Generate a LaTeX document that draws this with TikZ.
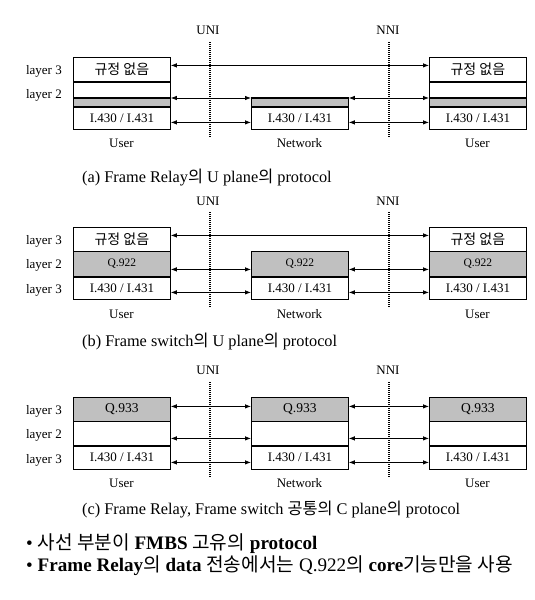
\documentclass[tikz,border=0pt]{standalone}
\usepackage{fontspec}
\setmainfont{Liberation Serif}
\newfontfamily\kr{Noto Sans CJK KR}
\usetikzlibrary{arrows.meta}
\definecolor{LayerGray}{HTML}{C0C0C0}
\tikzset{
  cell/.style={draw, line width=0.8pt, anchor=north west, minimum width=97pt, inner sep=0pt, font=\fontsize{13}{14}\selectfont},
  shaded/.style={cell, fill=LayerGray},
  korean/.style={font=\fontsize{14}{15}\kr},
  sep/.style={line width=2.2pt},
  link/.style={line width=0.8pt, {Latex[length=6pt,width=4.5pt]}-{Latex[length=6pt,width=4.5pt]}},
  divider/.style={line width=2pt, dash pattern=on 1.2pt off 0.8pt},
  tag/.style={font=\fontsize{13}{14}\selectfont, inner sep=1pt},
  caption/.style={font=\fontsize{16.3}{18}\selectfont, anchor=west, inner sep=0pt},
  note/.style={caption, font=\fontsize{19.1}{21}\selectfont}
}
\begin{document}
\begin{tikzpicture}[x=1pt, y=-1pt]
  \useasboundingbox (0,0) rectangle (535,600);
  %% (a) U plane of Frame Relay
  \node[tag] (aUNI) at (208,30) {UNI};
  \node[tag] (aNNI) at (388,30) {NNI};
  \draw[divider] (210,42) -- (210,137);
  \draw[divider] (389,42) -- (389,137);
  \node[tag, anchor=east] (aLay3) at (63,71) {layer 3};
  \node[tag, anchor=east] (aLay2) at (63,95) {layer 2};
  \foreach \x/\n in {73/L, 429/R} {
    \node[cell, korean, minimum height=24pt] (a3\n) at (\x,57) {규정 없음};
    \node[cell, minimum height=17pt] (a2\n) at (\x,81) {};
    \node[shaded, minimum height=8pt] (ag\n) at (\x,98) {};
    \node[cell, minimum height=23pt] (a1\n) at (\x,106) {I.430 / I.431};
    \draw[sep] (a3\n.south west) -- (a3\n.south east);
    \draw[sep] (ag\n.north west) -- (ag\n.north east);
    \draw[sep] (ag\n.south west) -- (ag\n.south east);
    \node[tag] (aUser\n) at (\x+48.5,143) {User};
  }
  \node[shaded, minimum height=8pt] (agN) at (251,98) {};
  \node[cell, minimum height=23pt] (a1N) at (251,106) {I.430 / I.431};
  \draw[sep] (agN.north west) -- (agN.north east);
  \draw[sep] (agN.south west) -- (agN.south east);
  \node[tag] (aNet) at (299.5,143) {Network};
  \draw[link] ([yshift=4pt]a3L.east) -- ([yshift=4pt]a3R.west);
  \draw[link] (agL.north east) -- (agN.north west);
  \draw[link] (agN.north east) -- (agR.north west);
  \draw[link] ([yshift=-4.5pt]a1L.east) -- ([yshift=-4.5pt]a1N.west);
  \draw[link] ([yshift=-4.5pt]a1N.east) -- ([yshift=-4.5pt]a1R.west);
  \node[caption] (aCap) at (82,178) {(a) Frame Relay{\kr 의} U plane{\kr 의} protocol};

  %% (b) U plane of Frame switch
  \node[tag] (bUNI) at (208,201) {UNI};
  \node[tag] (bNNI) at (388,201) {NNI};
  \draw[divider] (210,212) -- (210,307);
  \draw[divider] (389,212) -- (389,307);
  \node[tag, anchor=east] (bLay3) at (63,241) {layer 3};
  \node[tag, anchor=east] (bLay2) at (63,265) {layer 2};
  \node[tag, anchor=east] (bLay1) at (63,290) {layer 3};
  \foreach \x/\n in {73/L, 429/R} {
    \node[cell, korean, minimum height=24pt] (b3\n) at (\x,227) {규정 없음};
    \node[shaded, minimum height=25pt, font=\fontsize{11.5}{12}\selectfont] (b2\n) at (\x,251) {Q.922};
    \node[cell, minimum height=23pt] (b1\n) at (\x,276) {I.430 / I.431};
    \draw[sep] (b2\n.south west) -- (b2\n.south east);
    \node[tag] (bUser\n) at (\x+48.5,314) {User};
  }
  \node[shaded, minimum height=25pt, font=\fontsize{11.5}{12}\selectfont] (b2N) at (251,251) {Q.922};
  \node[cell, minimum height=23pt] (b1N) at (251,276) {I.430 / I.431};
  \draw[sep] (b2N.south west) -- (b2N.south east);
  \node[tag] (bNet) at (299.5,314) {Network};
  \draw[link] ([yshift=4pt]b3L.east) -- ([yshift=4pt]b3R.west);
  \draw[link] ([yshift=-5.5pt]b2L.east) -- ([yshift=-5.5pt]b2N.west);
  \draw[link] ([yshift=-5.5pt]b2N.east) -- ([yshift=-5.5pt]b2R.west);
  \draw[link] ([yshift=-4.5pt]b1L.east) -- ([yshift=-4.5pt]b1N.west);
  \draw[link] ([yshift=-4.5pt]b1N.east) -- ([yshift=-4.5pt]b1R.west);
  \node[caption] (bCap) at (82,341) {(b) Frame switch{\kr 의} U plane{\kr 의} protocol};

  %% (c) C plane, common to both
  \node[tag] (cUNI) at (208,370) {UNI};
  \node[tag] (cNNI) at (388,370) {NNI};
  \draw[divider] (210,382) -- (210,477);
  \draw[divider] (389,382) -- (389,477);
  \node[tag, anchor=east] (cLay3) at (63,411) {layer 3};
  \node[tag, anchor=east] (cLay2) at (63,435) {layer 2};
  \node[tag, anchor=east] (cLay1) at (63,460) {layer 3};
  \foreach \x/\n in {73/L, 251/N, 429/R} {
    \node[shaded, minimum height=24pt, font=\fontsize{13.5}{14}\selectfont] (c3\n) at (\x,397) {Q.933};
    \node[cell, minimum height=24pt] (c2\n) at (\x,421) {};
    \node[cell, minimum height=24pt] (c1\n) at (\x,445) {I.430 / I.431};
    \draw[sep] (c2\n.south west) -- (c2\n.south east);
  }
  \node[tag] (cUserL) at (121.5,483) {User};
  \node[tag] (cNet) at (299.5,483) {Network};
  \node[tag] (cUserR) at (477.5,483) {User};
  \draw[link] ([yshift=3pt]c3L.east) -- ([yshift=3pt]c3N.west);
  \draw[link] ([yshift=3pt]c3N.east) -- ([yshift=3pt]c3R.west);
  \draw[link] ([yshift=-5pt]c2L.east) -- ([yshift=-5pt]c2N.west);
  \draw[link] ([yshift=-5pt]c2N.east) -- ([yshift=-5pt]c2R.west);
  \draw[link] ([yshift=-5pt]c1L.east) -- ([yshift=-5pt]c1N.west);
  \draw[link] ([yshift=-5pt]c1N.east) -- ([yshift=-5pt]c1R.west);
  \node[caption] (cCap) at (82,510) {(c) Frame Relay, Frame switch {\kr 공통의} C plane{\kr 의} protocol};

  %% notes
  \node[note] (note1) at (26,544)
    {• {\kr 사선 부분이} \textbf{FMBS} {\kr 고유의} \textbf{protocol}};
  \node[note] (note2) at (26,566)
    {• \textbf{Frame Relay}{\kr 의} \textbf{data} {\kr 전송에서는} Q.922{\kr 의} \textbf{core}{\kr 기능만을 사용}};
\end{tikzpicture}
\end{document}
